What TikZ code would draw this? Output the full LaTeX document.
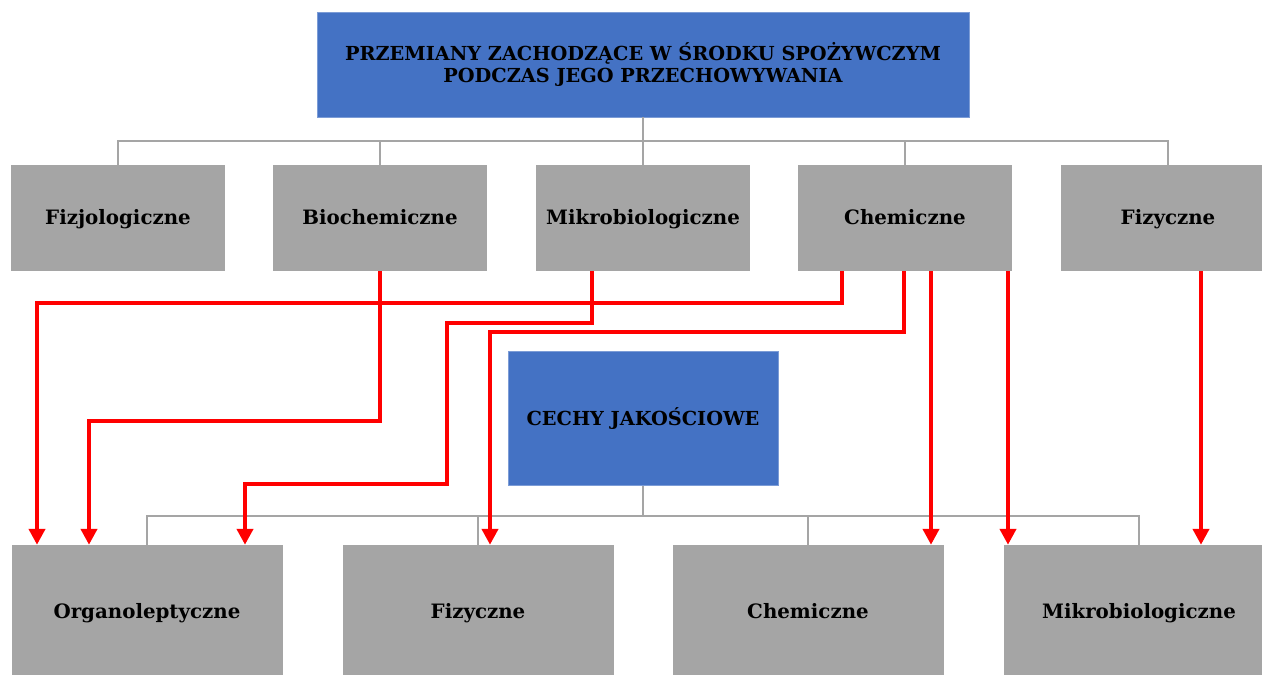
\documentclass[tikz,border=0pt]{standalone}
\usepackage{fontspec}
\setmainfont{DejaVu Serif}
\usetikzlibrary{arrows.meta}
\definecolor{boxblue}{HTML}{4472C4}
\definecolor{boxgray}{HTML}{A5A5A5}
\definecolor{linkred}{HTML}{FF0000}
\begin{document}
\begin{tikzpicture}[x=1pt,y=-1pt,
  headbox/.style={rectangle, fill=boxblue, draw=boxblue!70!white, line width=0.6pt,
    align=center, inner sep=0pt, font=\bfseries\fontsize{19.3}{22.5}\selectfont},
  catbox/.style={rectangle, fill=boxgray, draw=none, minimum width=214pt, minimum height=106pt,
    inner sep=0pt, text height=13pt, text depth=0pt, font=\bfseries\fontsize{19.8}{23}\selectfont},
  featbox/.style={rectangle, fill=boxgray, draw=none, minimum width=271pt, minimum height=132pt,
    inner sep=0pt, text height=14pt, text depth=0pt, font=\bfseries\fontsize{19.8}{23}\selectfont},
  tree/.style={draw=boxgray, line width=2.5pt},
  link/.style={draw=linkred, line width=4pt, line join=miter,
    -{Triangle[length=16pt,width=16pt]}}]
\useasboundingbox (0,0) rectangle (1262,675);
\clip (0,0) rectangle (1262,675);

% headings
\node[headbox, minimum width=652pt, minimum height=105pt] (top) at (643,64.5)
  {PRZEMIANY ZACHODZĄCE W ŚRODKU SPOŻYWCZYM\\PODCZAS JEGO PRZECHOWYWANIA};
\node[headbox, minimum width=270pt, minimum height=134pt, text height=13pt, text depth=0pt]
  (mid) at (643,418.5) {CECHY JAKOŚCIOWE};

% kinds of changes
\node[catbox] (c1) at (118,218) {Fizjologiczne};
\node[catbox] (c2) at (380,218) {Biochemiczne};
\node[catbox] (c3) at (643,218) {Mikrobiologiczne};
\node[catbox] (c4) at (905,218) {Chemiczne};
\node[catbox] (c5) at (1168,218) {Fizyczne};

% quality features
\node[featbox] (b1) at (147,611) {Organoleptyczne};
\node[featbox] (b2) at (478,611) {Fizyczne};
\node[featbox] (b3) at (808,611) {Chemiczne};
\node[featbox] (b4) at (1139,611) {Mikrobiologiczne};

% hierarchy lines
\coordinate (hubA) at (643,141);
\coordinate (hubB) at (643,516);
\draw[tree] (top.south) -- (hubA);
\foreach \n in {c1,c2,c3,c4,c5} \draw[tree] (hubA) -| (\n.north);
\draw[tree] (mid.south) -- (hubB);
\foreach \n in {b1,b2,b3,b4} \draw[tree] (hubB) -| (\n.north);

% influence arrows
\draw[link] ([xshift=-63pt]c4.south) -- ++(0,32) -| ([xshift=-110pt]b1.north);
\draw[link] (c2.south) -- ++(0,150) -| ([xshift=-58pt]b1.north);
\draw[link] ([xshift=-51pt]c3.south) -- ++(0,52) -| ++(-145,161) -| ([xshift=98pt]b1.north);
\draw[link] ([xshift=-1pt]c4.south) -- ++(0,61) -| ([xshift=12pt]b2.north);
\draw[link] ([xshift=26pt]c4.south) -- ([xshift=123pt]b3.north);
\draw[link] ([xshift=103pt]c4.south) -- ([xshift=-131pt]b4.north);
\draw[link] ([xshift=33pt]c5.south) -- ([xshift=62pt]b4.north);
\end{tikzpicture}
\end{document}
